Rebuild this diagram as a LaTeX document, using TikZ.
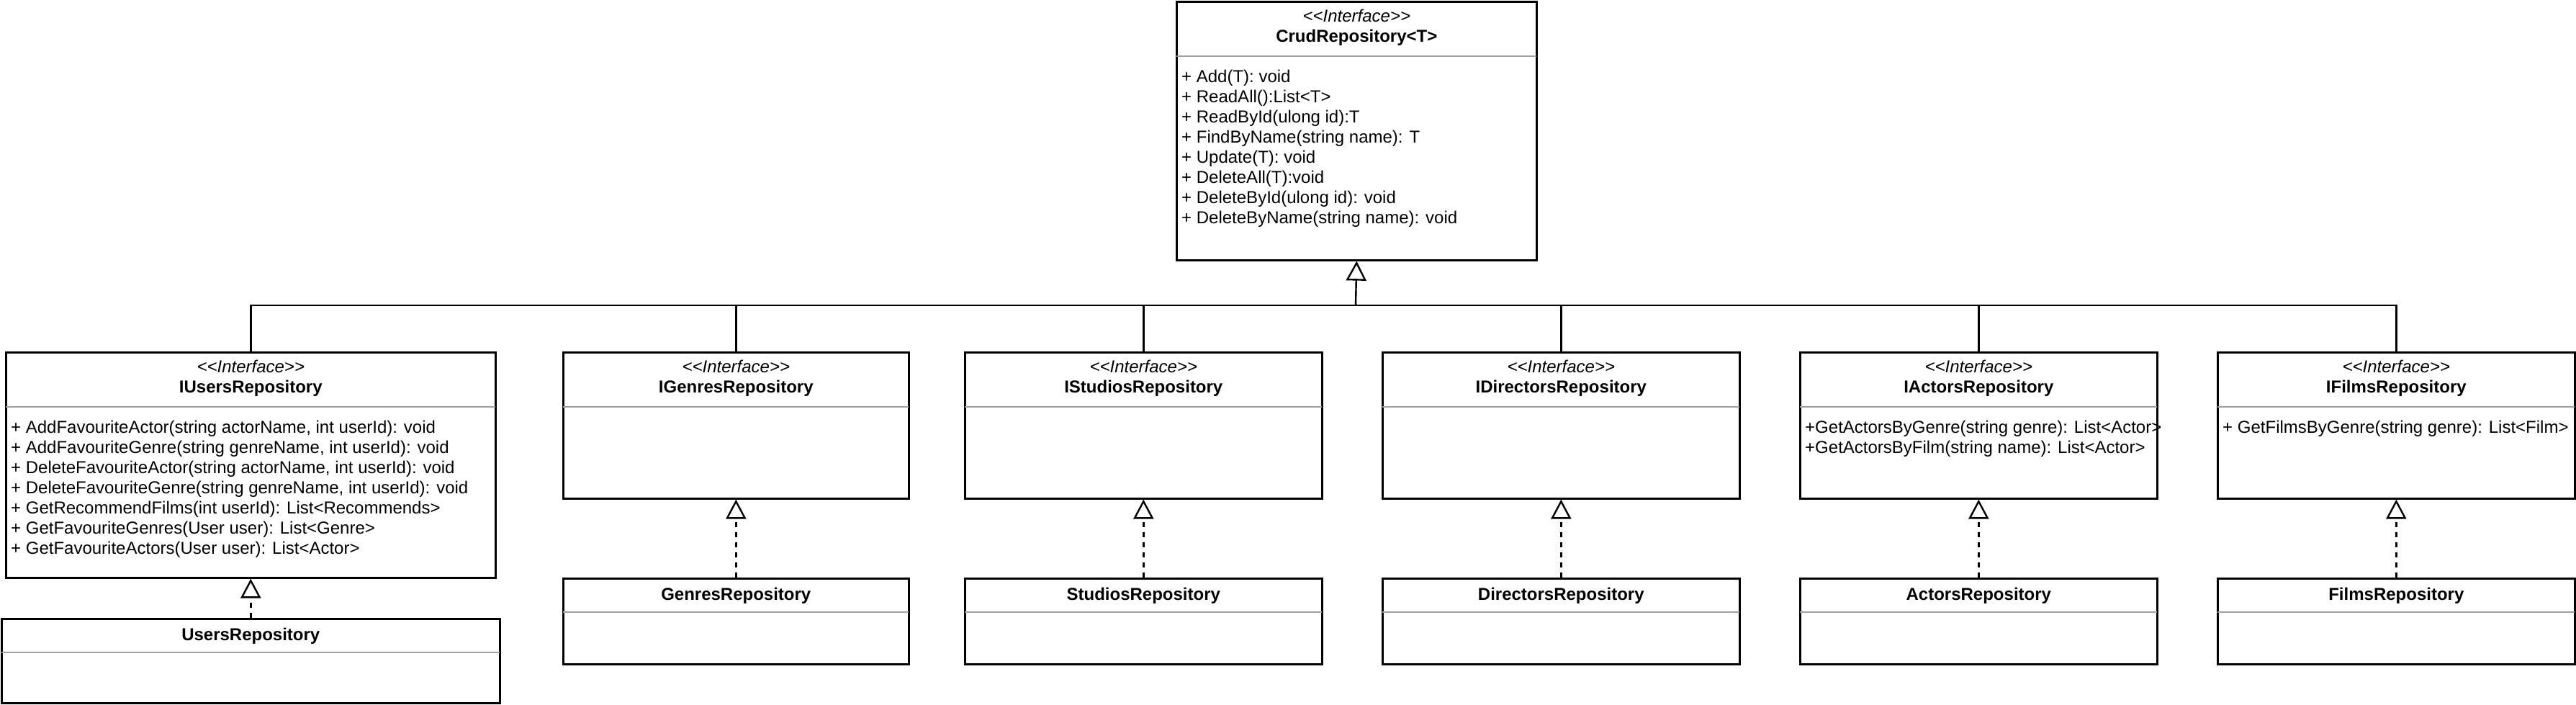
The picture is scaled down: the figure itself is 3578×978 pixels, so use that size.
\documentclass[tikz,border=0pt]{standalone}
\usepackage{fontspec}
\setmainfont{Liberation Sans}
\usetikzlibrary{arrows.meta}
\newcommand\mkhead[2]{%
  \node[stereo] (#1-st) at ([yshift=-29pt]#1.north) {<{}<Interface>{}>};
  \node[title] (#1-nm) at ([yshift=-57pt]#1.north) {#2};
  \draw[sepline] ([yshift=-77pt]#1.north west) -- ([yshift=-77pt]#1.north east);
}
\newcommand\mkimpl[2]{%
  \node[title] (#1-nm) at ([yshift=-31pt]#1.north) {#2};
  \draw[sepline] ([yshift=-48pt]#1.north west) -- ([yshift=-48pt]#1.north east);
}
\begin{document}
\begin{tikzpicture}[x=1pt,y=-1pt,
  box/.style={draw=black, line width=2.6pt, fill=white, inner sep=0pt, anchor=north west},
  sepline/.style={draw={rgb,255:red,160;green,160;blue,160}, line width=2pt, shorten <=1.3pt, shorten >=1.3pt},
  stereo/.style={anchor=base, inner sep=0pt, font=\fontsize{24}{28}\selectfont\itshape},
  title/.style={anchor=base, inner sep=0pt, font=\fontsize{24}{28}\selectfont\bfseries},
  meth/.style={anchor=base west, inner sep=0pt, font=\fontsize{24}{28}\selectfont},
  conn/.style={draw=black, line width=2.4pt},
  gen/.style={conn, -{Triangle[length=27pt,width=28pt,fill=white]}},
  real/.style={gen, dash pattern=on 7pt off 7pt},
]
\useasboundingbox (0,0) rectangle (3578,978);

% interfaces
\node[box, minimum width=500pt, minimum height=359pt] (crud) at (1633,1) {};
\node[box, minimum width=680pt, minimum height=313pt] (iusers) at (7,488) {};
\node[box, minimum width=480pt, minimum height=203pt] (igenres) at (781,488) {};
\node[box, minimum width=496pt, minimum height=203pt] (istudios) at (1339,488) {};
\node[box, minimum width=496pt, minimum height=203pt] (idirectors) at (1919,488) {};
\node[box, minimum width=496pt, minimum height=203pt] (iactors) at (2499,488) {};
\node[box, minimum width=496pt, minimum height=203pt] (ifilms) at (3079,488) {};

% implementations
\node[box, minimum width=692pt, minimum height=117pt] (users) at (1,858) {};
\node[box, minimum width=480pt, minimum height=119pt] (genres) at (781,802) {};
\node[box, minimum width=496pt, minimum height=119pt] (studios) at (1339,802) {};
\node[box, minimum width=496pt, minimum height=119pt] (directors) at (1919,802) {};
\node[box, minimum width=496pt, minimum height=119pt] (actors) at (2499,802) {};
\node[box, minimum width=496pt, minimum height=119pt] (films) at (3079,802) {};

\mkhead{crud}{CrudRepository<T>}
\mkhead{iusers}{IUsersRepository}
\mkhead{igenres}{IGenresRepository}
\mkhead{istudios}{IStudiosRepository}
\mkhead{idirectors}{IDirectorsRepository}
\mkhead{iactors}{IActorsRepository}
\mkhead{ifilms}{IFilmsRepository}

\mkimpl{users}{UsersRepository}
\mkimpl{genres}{GenresRepository}
\mkimpl{studios}{StudiosRepository}
\mkimpl{directors}{DirectorsRepository}
\mkimpl{actors}{ActorsRepository}
\mkimpl{films}{FilmsRepository}

% methods
\foreach \t [count=\i from 0] in {{+ Add(T): void},{+ ReadAll():List<T>},{+ ReadById(ulong id):T},{+ FindByName(string name): T},{+ Update(T): void},{+ DeleteAll(T):void},{+ DeleteById(ulong id): void},{+ DeleteByName(string name): void}}
  \node[meth] (crud-m\i) at ([xshift=8pt,yshift={-113pt-28pt*\i}]crud.north west) {\t};
\foreach \t [count=\i from 0] in {{+ AddFavouriteActor(string actorName, int userId): void},{+ AddFavouriteGenre(string genreName, int userId): void},{+ DeleteFavouriteActor(string actorName, int userId): void},{+ DeleteFavouriteGenre(string genreName, int userId): void},{+ GetRecommendFilms(int userId): List<Recommends>},{+ GetFavouriteGenres(User user): List<Genre>},{+ GetFavouriteActors(User user): List<Actor>}}
  \node[meth] (iusers-m\i) at ([xshift=8pt,yshift={-113pt-28pt*\i}]iusers.north west) {\t};
\foreach \t [count=\i from 0] in {{+GetActorsByGenre(string genre): List<Actor>},{+GetActorsByFilm(string name): List<Actor>}}
  \node[meth] (iactors-m\i) at ([xshift=8pt,yshift={-113pt-28pt*\i}]iactors.north west) {\t};
\node[meth] (ifilms-m0) at ([xshift=8pt,yshift=-113pt]ifilms.north west) {+ GetFilmsByGenre(string genre): List<Film>};

% generalisation bus
\coordinate (bus) at (1883,424);
\draw[conn] (iusers.north) -- (iusers.north |- bus) -- (ifilms.north |- bus) -- (ifilms.north);
\foreach \n in {igenres,istudios,idirectors,iactors}
  \draw[conn] (\n.north) -- (\n.north |- bus);
\draw[gen] (bus) -- (crud.south);

% realisations
\draw[real] (users.north) -- (iusers.south);
\draw[real] (genres.north) -- (igenres.south);
\draw[real] (studios.north) -- (istudios.south);
\draw[real] (directors.north) -- (idirectors.south);
\draw[real] (actors.north) -- (iactors.south);
\draw[real] (films.north) -- (ifilms.south);
\end{tikzpicture}
\end{document}
